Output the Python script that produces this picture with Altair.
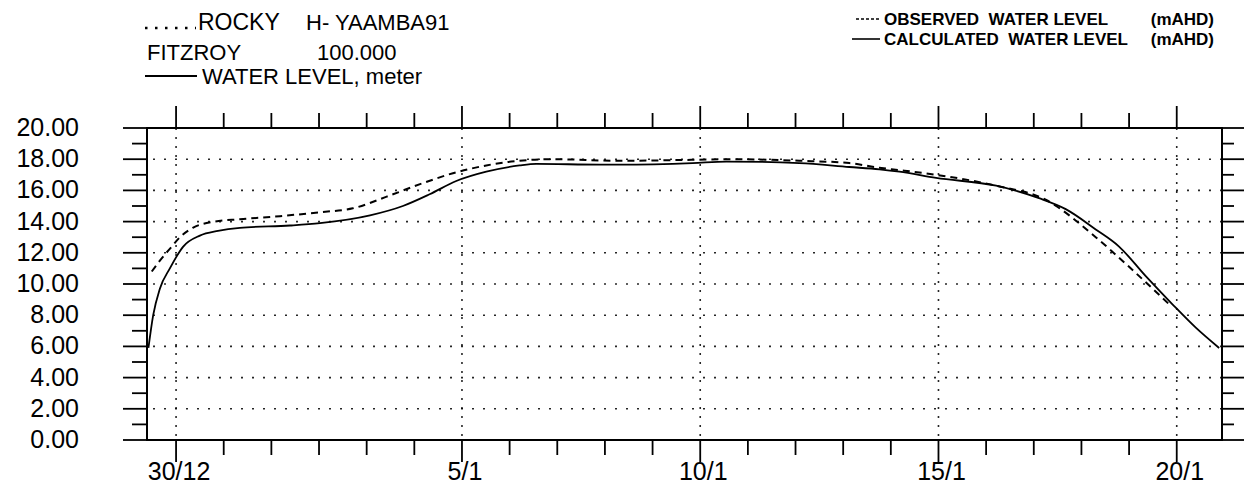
import altair as alt
import pandas as pd

# ---- data (day 0 = 30/12) ----
calc_day = [-0.58, -0.48, -0.34, -0.13, 0.15, 0.50, 0.88, 1.34, 2.39, 3.02, 4.07, 4.76,
            5.32, 5.88, 6.51, 7.21, 7.56, 8.89, 9.31, 10.84, 11.55, 13.08, 14.13, 14.76,
            15.18, 15.95, 17.21, 18.11, 18.67, 19.30, 19.79, 20.35, 20.91, 21.40, 21.89]
calc_level = [5.9, 8.0, 9.7, 11.0, 12.4, 13.1, 13.4, 13.6, 13.75, 13.9, 14.4, 15.0,
              15.75, 16.6, 17.2, 17.6, 17.7, 17.65, 17.65, 17.75, 17.85, 17.75, 17.5, 17.35,
              17.2, 16.8, 16.3, 15.5, 14.8, 13.5, 12.4, 10.5, 8.7, 7.2, 5.9]

obs_day = [-0.51, -0.34, -0.09, 0.08, 0.35, 0.80, 1.34, 2.18, 3.02, 3.71, 4.42, 5.12,
           5.81, 6.51, 7.21, 7.90, 9.31, 10.84, 11.68, 13.08, 14.13, 14.76, 15.18, 15.95,
           17.21, 18.25, 19.30, 20.0, 20.84]
obs_level = [10.8, 11.5, 12.4, 13.0, 13.6, 14.0, 14.15, 14.35, 14.6, 14.85, 15.6, 16.4,
             17.1, 17.6, 17.9, 18.0, 17.9, 17.96, 18.0, 17.9, 17.75, 17.45, 17.3, 17.0,
             16.3, 15.4, 13.0, 11.1, 8.7]

y_major = [0, 2, 4, 6, 8, 10, 12, 14, 16, 18, 20]
y_major_text = ["0.00", "2.00", "4.00", "6.00", "8.00", "10.00", "12.00", "14.00",
                "16.00", "18.00", "20.00"]
y_minor = [1, 3, 5, 7, 9, 11, 13, 15, 17, 19]
y_grid = [2, 4, 6, 8, 10, 12, 14, 16, 18]
x_label_days = [0, 6, 11, 16, 21]
x_label_text = ["30/12", "5/1", "10/1", "15/1", "20/1"]
x_minor_days = [d for d in range(0, 22) if d not in x_label_days]

header_text = ["ROCKY", "H- YAAMBA91", "FITZROY", "100.000", "WATER LEVEL, meter"]
legend_text = ["OBSERVED\u00a0 WATER LEVEL", "CALCULATED\u00a0 WATER LEVEL", "(mAHD)"]

W, H = 1075, 312
FONT = "Liberation Sans"
xscale = alt.Scale(domain=[-0.61, 21.95], nice=False, zero=False)
yscale = alt.Scale(domain=[0, 20], nice=False, zero=False)

calc_df = pd.DataFrame({"day": calc_day, "level": calc_level})
obs_df = pd.DataFrame({"day": obs_day, "level": obs_level})
one = pd.DataFrame({"k": [0]})


def xq():
    return alt.X("day:Q", scale=xscale, axis=None)


def yq():
    return alt.Y("level:Q", scale=yscale, axis=None)


layers = []

# dotted grid
layers.append(alt.Chart(pd.DataFrame({"level": y_grid})).mark_rule(
    color="black", strokeWidth=1.6, strokeDash=[2, 9], opacity=0.85).encode(y=yq()))
layers.append(alt.Chart(pd.DataFrame({"day": x_label_days})).mark_rule(
    color="black", strokeWidth=1.6, strokeDash=[2, 7], opacity=0.85).encode(x=xq()))

# y labels
layers.append(alt.Chart(pd.DataFrame({"level": y_major, "lab": y_major_text})).mark_text(
    font=FONT, fontSize=25, align="right", baseline="middle", color="black").encode(
    y=yq(), x=alt.value(-68), text="lab:N"))

# ticks left / right
for vals, ln, rl in [(y_major, 24, 22), (y_minor, 15, 12)]:
    d = pd.DataFrame({"level": vals})
    layers.append(alt.Chart(d).mark_rule(color="black", strokeWidth=1.8).encode(
        y=yq(), x=alt.value(-ln), x2=alt.value(0)))
    layers.append(alt.Chart(d).mark_rule(color="black", strokeWidth=1.8).encode(
        y=yq(), x=alt.value(W), x2=alt.value(W + rl)))

# ticks bottom / top
for vals, bl, tl in [(x_label_days, 22, 22), (x_minor_days, 15, 15)]:
    d = pd.DataFrame({"day": vals})
    layers.append(alt.Chart(d).mark_rule(color="black", strokeWidth=1.8).encode(
        x=xq(), y=alt.value(H), y2=alt.value(H + bl)))
    layers.append(alt.Chart(d).mark_rule(color="black", strokeWidth=1.8).encode(
        x=xq(), y=alt.value(0), y2=alt.value(-tl)))

# x labels
layers.append(alt.Chart(pd.DataFrame({"day": x_label_days, "lab": x_label_text})).mark_text(
    font=FONT, fontSize=25, baseline="top", align="center", color="black", dx=3).encode(
    x=xq(), y=alt.value(H + 20), text="lab:N"))

# curves
layers.append(alt.Chart(obs_df).mark_line(
    color="black", strokeWidth=2, strokeDash=[7, 5], interpolate="monotone").encode(
    x=xq(), y=yq()))
layers.append(alt.Chart(calc_df).mark_line(
    color="black", strokeWidth=1.8, interpolate="monotone").encode(x=xq(), y=yq()))


def text_at(s, x, y, size=22, weight="normal", align="left"):
    return alt.Chart(pd.DataFrame({"t": [s]})).mark_text(
        font=FONT, fontSize=size, fontWeight=weight, align=align, baseline="alphabetic",
        color="black").encode(x=alt.value(x), y=alt.value(y), text="t:N")


def seg(x1, x2, y, dash=None, width=2):
    kw = dict(color="black", strokeWidth=width)
    if dash:
        kw["strokeDash"] = dash
    return alt.Chart(one).mark_rule(**kw).encode(
        x=alt.value(x1), x2=alt.value(x2), y=alt.value(y))


OX, OY = 147, 128  # plot origin in page pixels
# header, top-left
layers.append(seg(145 - OX, 196 - OX, 28 - OY, dash=[2.5, 7.5], width=2.5))
layers.append(text_at(header_text[0], 198 - OX, 30 - OY, size=23))
layers.append(text_at(header_text[1], 306 - OX, 30 - OY))
layers.append(text_at(header_text[2], 147 - OX, 60 - OY))
layers.append(text_at(header_text[3], 317 - OX, 60 - OY))
layers.append(seg(145 - OX, 197 - OX, 76 - OY, width=2))
layers.append(text_at(header_text[4], 202 - OX, 84 - OY))

# legend, top-right
layers.append(seg(856 - OX, 880 - OX, 19 - OY, dash=[3, 2], width=1.6))
layers.append(seg(852 - OX, 880 - OX, 39 - OY, width=1.6))
layers.append(text_at(legend_text[0], 884 - OX, 25 - OY, size=17, weight="bold"))
layers.append(text_at(legend_text[1], 884 - OX, 45 - OY, size=17, weight="bold"))
layers.append(text_at(legend_text[2], 1214 - OX, 25 - OY, size=17, weight="bold", align="right"))
layers.append(text_at(legend_text[2], 1214 - OX, 45 - OY, size=17, weight="bold", align="right"))

chart = alt.layer(*layers).properties(
    width=W, height=H,
    padding={"left": OX, "top": OY, "right": 1256 - OX - W, "bottom": 488 - OY - H},
    autosize=alt.AutoSizeParams(type="none"),
    background="white",
).configure_view(stroke="black", strokeWidth=2)

chart.save("out.html", embed_options={"renderer": "svg", "actions": False})
